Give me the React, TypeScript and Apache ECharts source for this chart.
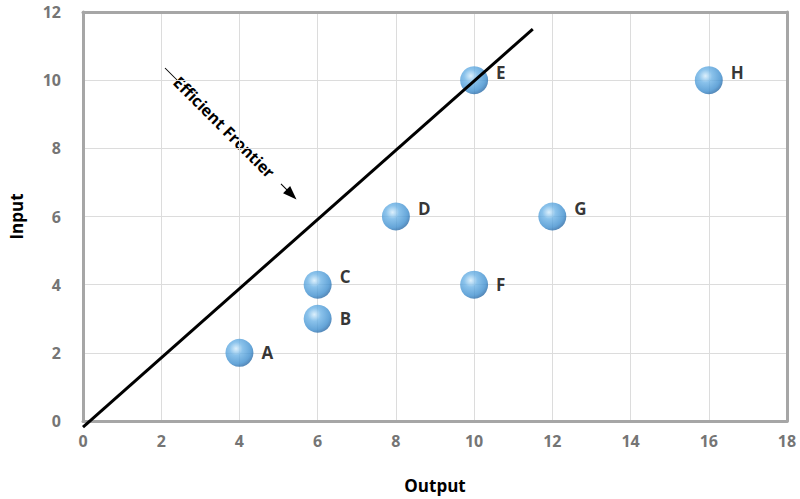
import React, { useEffect, useRef } from "react";
import * as echarts from "echarts";

const pointNames = ["A", "B", "C", "D", "E", "F", "G", "H"];
const outputs = [4, 6, 6, 8, 10, 10, 12, 16];
const inputs = [2, 3, 4, 6, 10, 4, 6, 10];
const frontierX = [0, 11.5];
const frontierY = [-0.18, 11.5];
const xTicks = { min: 0, max: 18, interval: 2 };
const yTicks = { min: 0, max: 12, interval: 2 };
const raisedLabels = ["C", "D", "E", "G", "H"];

export default function App() {
  const ref = useRef<HTMLDivElement>(null);
  useEffect(() => {
    if (!ref.current) return;
    const chart = echarts.init(ref.current, undefined, { renderer: "svg" });
    const sphere = new echarts.graphic.RadialGradient(0.38, 0.35, 0.68, [
      { offset: 0, color: "#d4ecfb" },
      { offset: 0.35, color: "#6db3e6" },
      { offset: 0.8, color: "#3f8fcf" },
      { offset: 1, color: "#2a6aa6" },
    ]);
    const pts = pointNames.map((n, i) => ({
      name: n,
      value: [outputs[i], inputs[i]],
      label: { offset: raisedLabels.includes(n) ? [0, -8] : [0, 0] },
    }));
    const font = "Open Sans";
    const axisLabel = { color: "#757575", fontWeight: "bold", fontSize: 16, fontFamily: font };
    const border = { show: true, lineStyle: { color: "#a6a6a6", width: 3 } };
    const nameStyle = { color: "#000", fontWeight: "bold", fontSize: 17, fontFamily: font };
    chart.setOption({
      animation: false,
      grid: { left: 80, right: 13, top: 12, bottom: 78 },
      xAxis: [
        {
          type: "value",
          ...xTicks,
          name: "Output",
          nameLocation: "middle",
          nameGap: 56,
          nameTextStyle: nameStyle,
          axisLine: { ...border, onZero: false },
          axisTick: { show: false },
          axisLabel: { ...axisLabel, margin: 12 },
          splitLine: { lineStyle: { color: "#dcdcdc", width: 1 } },
        },
        {
          type: "value",
          ...xTicks,
          position: "top",
          axisLine: { ...border, onZero: false },
          axisTick: { show: false },
          axisLabel: { show: false },
          splitLine: { show: false },
        },
      ],
      yAxis: [
        {
          type: "value",
          ...yTicks,
          name: "Input",
          nameLocation: "middle",
          nameGap: 58,
          nameTextStyle: nameStyle,
          axisLine: { ...border, onZero: false },
          axisTick: { show: false },
          axisLabel: { ...axisLabel, margin: 22 },
          splitLine: { lineStyle: { color: "#dcdcdc", width: 1 } },
        },
        {
          type: "value",
          ...yTicks,
          position: "right",
          axisLine: { ...border, onZero: false },
          axisTick: { show: false },
          axisLabel: { show: false },
          splitLine: { show: false },
        },
      ],
      series: [
        {
          type: "line",
          data: frontierX.map((x, i) => [x, frontierY[i]]),
          symbol: "none",
          clip: false,
          lineStyle: { color: "#000", width: 3 },
          z: 6,
        },
        {
          type: "scatter",
          data: pts,
          symbolSize: 28,
          itemStyle: { color: sphere },
          label: {
            show: true,
            position: "right",
            distance: 8,
            formatter: "{b}",
            color: "#000",
            fontWeight: "bold",
            fontSize: 17,
            fontFamily: font,
          },
          z: 4,
        },
      ],
      graphic: [
        {
          type: "group",
          x: 165,
          y: 68,
          rotation: -Math.PI / 4,
          z: 10,
          children: [
            { type: "line", shape: { x1: 0, y1: 0, x2: 17, y2: 0 }, style: { stroke: "#000", lineWidth: 1 } },
            {
              type: "text",
              x: 16,
              y: 0,
              style: {
                text: "Efficient Frontier",
                fill: "#000",
                fontWeight: "bold",
                fontSize: 16,
                fontFamily: font,
                verticalAlign: "middle",
                align: "left",
              },
            },
            { type: "line", shape: { x1: 164, y1: 0, x2: 176, y2: 0 }, style: { stroke: "#000", lineWidth: 1 } },
            { type: "polygon", shape: { points: [[172, -5], [186, 0], [172, 5]] }, style: { fill: "#000" } },
          ],
        },
      ],
    });
    return () => chart.dispose();
  }, []);
  return <div ref={ref} style={{ width: 800, height: 499, position: "absolute", left: 0, top: 0 }} />;
}
